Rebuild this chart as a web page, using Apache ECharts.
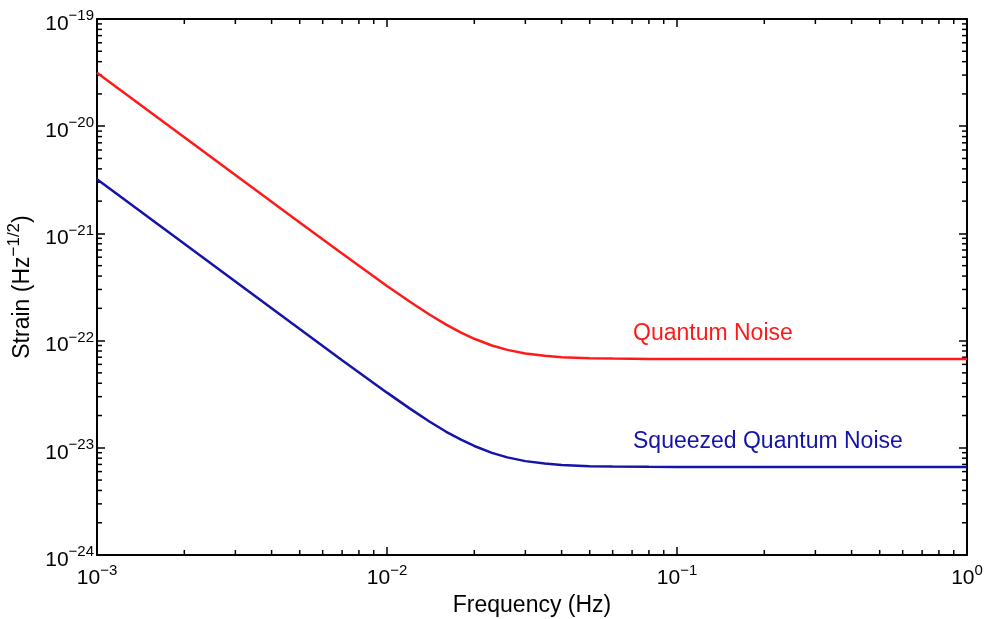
<!DOCTYPE html>
<html>
<head>
<meta charset="utf-8">
<script src="https://cdn.jsdelivr.net/npm/echarts@6/dist/echarts.min.js"></script>
<style>
  html, body { margin: 0; padding: 0; background: #fff; }
  #main { width: 989px; height: 619px; }
</style>
</head>
<body>
<div id="main"></div>
<script>
// frequency (Hz)
var freq = [0.001, 0.002, 0.003, 0.005, 0.007, 0.01, 0.012, 0.014, 0.016, 0.018, 0.02,
            0.023, 0.026, 0.03, 0.035, 0.04, 0.05, 0.06, 0.08, 0.1, 0.2, 0.5, 1];
// strain (Hz^-1/2)
var quantumNoise = [3.16e-20, 7.9e-21, 3.51e-21, 1.266e-21, 6.48e-22, 3.23e-22, 2.30e-22, 1.75e-22,
                    1.41e-22, 1.185e-22, 1.04e-22, 9.0e-23, 8.19e-23, 7.59e-23, 7.21e-23, 7.01e-23,
                    6.85e-23, 6.79e-23, 6.75e-23, 6.74e-23, 6.73e-23, 6.73e-23, 6.73e-23];
var squeezedNoise = [3.2e-21, 8.0e-22, 3.56e-22, 1.28e-22, 6.56e-23, 3.27e-23, 2.32e-23, 1.76e-23,
                     1.41e-23, 1.19e-23, 1.04e-23, 8.97e-24, 8.14e-24, 7.51e-24, 7.12e-24, 6.92e-24,
                     6.74e-24, 6.68e-24, 6.64e-24, 6.63e-24, 6.62e-24, 6.62e-24, 6.62e-24];

var xMin = 1e-3, xMax = 1;
var yMin = 1e-24, yMax = 1e-19;
var xDecades = [1e-3, 1e-2, 1e-1];
var yDecades = [1e-24, 1e-23, 1e-22, 1e-21, 1e-20];
var minorSteps = [2, 3, 4, 5, 6, 7, 8, 9];

// echarts rounds log ticks to 10 decimals, so strain is plotted in units of 1e-24
var Y_UNIT_EXP = -24;
var yUnit = Math.pow(10, -Y_UNIT_EXP);

var RED = '#ff1a1a';
var BLUE = '#1414a8';
var FONT = '"Liberation Sans", Arial, Helvetica, sans-serif';

function zip(a, b) {
  var out = [];
  for (var i = 0; i < a.length; i++) out.push([a[i], b[i] * yUnit]);
  return out;
}

var xMinor = [], yMinor = [];
xDecades.forEach(function (d) { minorSteps.forEach(function (m) { xMinor.push([d * m, yMin * yUnit]); }); });
yDecades.forEach(function (d) { minorSteps.forEach(function (m) { yMinor.push([xMin, d * m * yUnit]); }); });

function expText(e) {
  return '{b|10}{s|' + (e < 0 ? '\u2212' + (-e) : e) + '}';
}
function xLabel(v) { return expText(Math.round(Math.log(v) / Math.LN10)); }
function yLabel(v) { return expText(Math.round(Math.log(v) / Math.LN10) + Y_UNIT_EXP); }

var labelRich = {
  b: { fontSize: 21, lineHeight: 21, padding: [10, 0, 0, 0], fontFamily: FONT, color: '#000' },
  s: { fontSize: 15, lineHeight: 15, verticalAlign: 'top', fontFamily: FONT, color: '#000' }
};

var tickLine = function (x1, y1, x2, y2) {
  return { type: 'line', shape: { x1: x1, y1: y1, x2: x2, y2: y2 }, style: { stroke: '#000', lineWidth: 1.5 } };
};

function axisBase() {
  return {
    type: 'log',
    logBase: 10,
    splitLine: { show: false },
    axisLine: { lineStyle: { color: '#000', width: 2 } },
    axisTick: { inside: true, length: 8, lineStyle: { color: '#000', width: 1.5 } }
  };
}

var chart = echarts.init(document.getElementById('main'));
var option = {
  backgroundColor: '#fff',
  animation: false,
  grid: { left: 97, right: 22, top: 19, bottom: 64, containLabel: false, outerBoundsMode: 'none' },
  xAxis: [
    Object.assign(axisBase(), {
      min: xMin, max: xMax, position: 'bottom',
      name: 'Frequency (Hz)', nameLocation: 'middle', nameGap: 33,
      nameTextStyle: { fontSize: 23, fontFamily: FONT, color: '#000' },
      axisLabel: { margin: 8, formatter: xLabel, rich: labelRich }
    }),
    Object.assign(axisBase(), {
      min: xMin, max: xMax, position: 'top', axisLabel: { show: false }
    })
  ],
  yAxis: [
    Object.assign(axisBase(), {
      min: yMin * yUnit, max: yMax * yUnit, position: 'left',
      name: '{a|Strain (Hz}{s|\u22121/2}{a|)}', nameLocation: 'middle', nameGap: 60,
      nameTextStyle: {
        rich: {
          a: { fontSize: 23, lineHeight: 23, padding: [10, 0, 0, 0], fontFamily: FONT, color: '#000' },
          s: { fontSize: 17, lineHeight: 17, verticalAlign: 'top', fontFamily: FONT, color: '#000' }
        }
      },
      axisLabel: { margin: 3, formatter: yLabel, rich: labelRich }
    }),
    Object.assign(axisBase(), {
      min: yMin * yUnit, max: yMax * yUnit, position: 'right', axisLabel: { show: false }
    })
  ],
  series: [
    {
      name: 'Quantum Noise', type: 'line', xAxisIndex: 0, yAxisIndex: 0,
      data: zip(freq, quantumNoise), showSymbol: false, smooth: false,
      lineStyle: { color: RED, width: 2.5 }, itemStyle: { color: RED }, z: 3
    },
    {
      name: 'Squeezed Quantum Noise', type: 'line', xAxisIndex: 0, yAxisIndex: 0,
      data: zip(freq, squeezedNoise), showSymbol: false, smooth: false,
      lineStyle: { color: BLUE, width: 2.5 }, itemStyle: { color: BLUE }, z: 3
    },
    {
      // minor ticks on bottom and top
      type: 'custom', xAxisIndex: 0, yAxisIndex: 0, data: xMinor, clip: false, silent: true,
      renderItem: function (params, api) {
        var v = api.value(0);
        var b = api.coord([v, yMin * yUnit]);
        var t = api.coord([v, yMax * yUnit]);
        return { type: 'group', children: [tickLine(b[0], b[1], b[0], b[1] - 5), tickLine(t[0], t[1], t[0], t[1] + 5)] };
      }
    },
    {
      // minor ticks on left and right
      type: 'custom', xAxisIndex: 0, yAxisIndex: 0, data: yMinor, clip: false, silent: true,
      renderItem: function (params, api) {
        var v = api.value(1);
        var l = api.coord([xMin, v]);
        var r = api.coord([xMax, v]);
        return { type: 'group', children: [tickLine(l[0], l[1], l[0] + 5, l[1]), tickLine(r[0], r[1], r[0] - 5, r[1])] };
      }
    }
  ],
  graphic: [
    { type: 'text', left: 633, top: 322, style: { text: 'Quantum Noise', fill: RED, font: '23px ' + FONT } },
    { type: 'text', left: 633, top: 430, style: { text: 'Squeezed Quantum Noise', fill: BLUE, font: '23px ' + FONT } }
  ]
};
chart.setOption(option);
</script>
</body>
</html>
